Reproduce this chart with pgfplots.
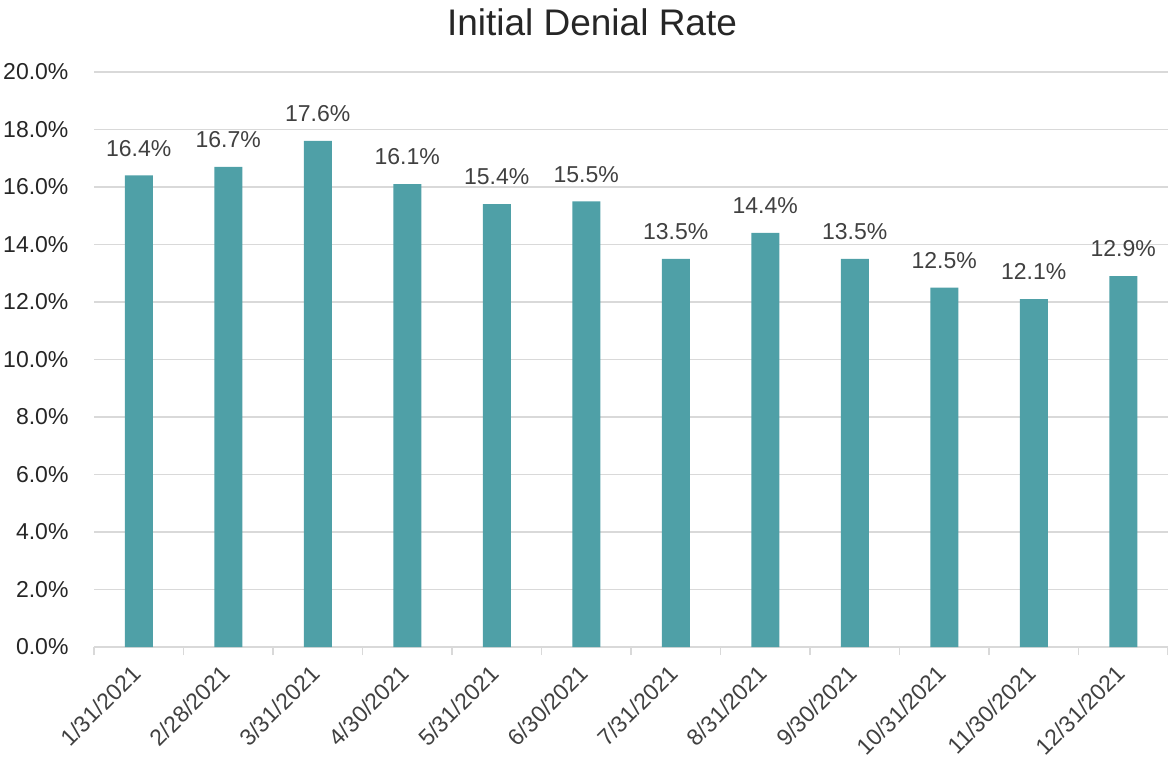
\documentclass[border=0pt]{standalone}
\usepackage{fontspec}
\setmainfont{Liberation Sans}
\usepackage{pgfplots}
\pgfplotsset{compat=1.18}
\definecolor{barteal}{HTML}{4FA0A7}
\definecolor{gridgray}{HTML}{D9D9D9}
\definecolor{ticktext}{HTML}{262626}
\definecolor{labeltext}{HTML}{404040}
\begin{document}
\begin{tikzpicture}
\useasboundingbox (0,0) rectangle (584bp,380bp);
\node[font=\fontsize{18.5bp}{22bp}\selectfont, text=ticktext] at (296bp,369bp) {Initial Denial Rate};
\begin{axis}[
  at={(47bp,56.5bp)}, anchor=south west,
  scale only axis, width=537bp, height=287.5bp,
  xmin=-0.5, xmax=11.5, ymin=0, ymax=20,
  /pgf/number format/assume math mode=true,
  ytick={0,2,...,20},
  yticklabel={\pgfmathprintnumber[fixed,fixed zerofill,precision=1]{\tick}\%},
  y tick label style={font=\fontsize{11.5bp}{14bp}\selectfont, text=ticktext, xshift=-5bp},
  ymajorgrids, grid style={gridgray, line width=0.8bp},
  major y tick style={draw=none},
  axis y line*=left, y axis line style={draw=none},
  axis x line*=bottom, x axis line style={gridgray, line width=0.8bp},
  xtick={0,...,11},
  xticklabels={1/31/2021,2/28/2021,3/31/2021,4/30/2021,5/31/2021,6/30/2021,7/31/2021,8/31/2021,9/30/2021,10/31/2021,11/30/2021,12/31/2021},
  x tick label style={font=\fontsize{11.5bp}{14bp}\selectfont, text=labeltext, xshift=-4bp, yshift=1bp, rotate=45, anchor=north east},
  major x tick style={draw=none},
  minor xtick={-0.5,0.5,...,11.5},
  minor x tick style={gridgray, line width=0.8bp},
  tick align=outside, minor tick length=4bp,
  ybar, bar width=14bp,
  nodes near coords={\pgfmathprintnumber[fixed,fixed zerofill,precision=1,assume math mode=true]{\pgfplotspointmeta}\%},
  nodes near coords style={font=\fontsize{11.5bp}{14bp}\selectfont, text=labeltext, yshift=6bp},
  clip=false,
]
\addplot[fill=barteal, draw=none] coordinates {
  (0,16.4) (1,16.7) (2,17.6) (3,16.1) (4,15.4) (5,15.5)
  (6,13.5) (7,14.4) (8,13.5) (9,12.5) (10,12.1) (11,12.9)
};
\end{axis}
\end{tikzpicture}
\end{document}
